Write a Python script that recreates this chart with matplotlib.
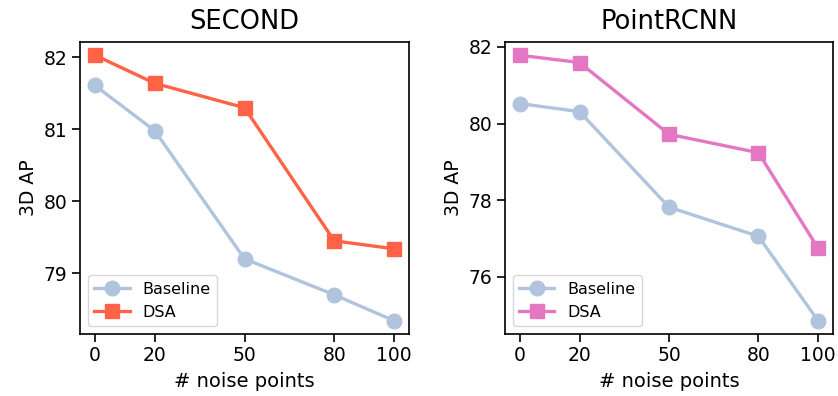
import matplotlib
matplotlib.use("Agg")
import matplotlib.pyplot as plt

noise = [0, 20, 50, 80, 100]
second_baseline = [81.61, 80.98, 79.20, 78.70, 78.34]
second_dsa = [82.03, 81.64, 81.30, 79.45, 79.34]
pointrcnn_baseline = [80.52, 80.31, 77.82, 77.06, 74.86]
pointrcnn_dsa = [81.78, 81.59, 79.72, 79.24, 76.75]

fig = plt.figure(figsize=(8.38, 3.96), dpi=100)
ax1 = fig.add_axes([0.0955, 0.1566, 0.3926, 0.7374])
ax2 = fig.add_axes([0.6026, 0.1566, 0.3914, 0.7374])

panels = [
    (ax1, "SECOND", second_baseline, second_dsa, "#FF6347", [79, 80, 81, 82]),
    (ax2, "PointRCNN", pointrcnn_baseline, pointrcnn_dsa, "#E377C2", [76, 78, 80, 82]),
]
for ax, title, base, dsa, col, yt in panels:
    ax.plot(noise, base, "-o", color="#B0C4DE", lw=2.4, ms=10.5, label="Baseline")
    ax.plot(noise, dsa, "-s", color=col, lw=2.4, ms=10.5, label="DSA")
    ax.set_xticks(noise)
    ax.set_yticks(yt)
    ax.tick_params(labelsize=13.5, length=5.5, width=1.2)
    for s in ax.spines.values():
        s.set_linewidth(1.2)
    ax.set_xlabel("# noise points", fontsize=14, labelpad=5)
    ax.set_ylabel("3D AP", fontsize=13.5)
    ax.set_title(title, fontsize=18.5, pad=9)
    ax.legend(loc="lower left", fontsize=11.5, handlelength=2.2)

fig.savefig("out.png", dpi=100)
